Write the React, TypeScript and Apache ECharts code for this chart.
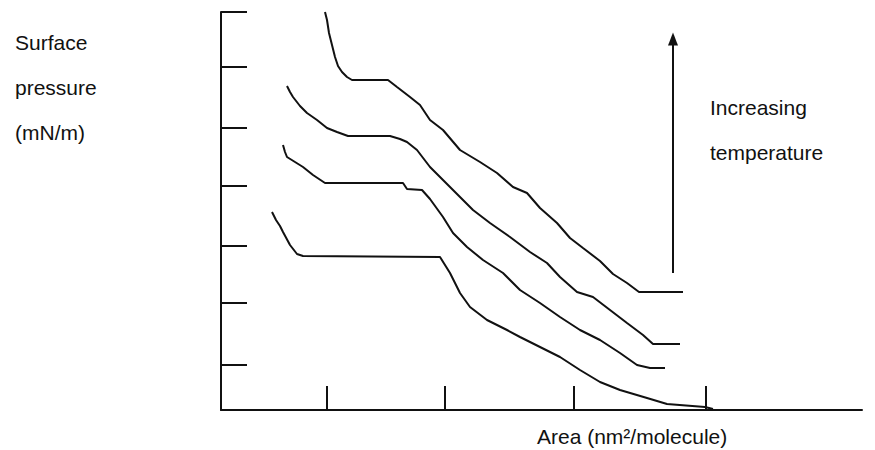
import React, { useEffect, useRef } from "react";
import * as echarts from "echarts";

// Data units: arbitrary area (x) and surface pressure (y) units
const curve1: [number, number][] = [
  [104, 398], [106, 390], [108, 377], [111, 365], [114, 353], [117, 344], [121, 338], [126, 333], [131, 330],
  [167, 330], [176, 323], [189, 313], [199, 305], [209, 290], [222, 280], [239, 260], [259, 248], [276, 237],
  [292, 223], [306, 217], [319, 202], [336, 187], [349, 172], [362, 162], [379, 149], [392, 136], [406, 127],
  [418, 118], [462, 118],
];
const curve2: [number, number][] = [
  [66, 324], [69, 318], [72, 313], [79, 304], [86, 297], [96, 290], [106, 282], [116, 278], [127, 274],
  [169, 274], [179, 271], [186, 268], [196, 260], [209, 243], [222, 230], [239, 213], [252, 200], [269, 187],
  [289, 173], [309, 158], [326, 147], [339, 133], [356, 118], [372, 113], [389, 100], [406, 87], [422, 75],
  [432, 66], [459, 66],
];
const curve3: [number, number][] = [
  [62, 265], [64, 258], [66, 253], [74, 248], [82, 243], [92, 235], [104, 227], [182, 227], [186, 221],
  [201, 220], [209, 211], [222, 193], [232, 177], [246, 163], [262, 150], [282, 137], [299, 120], [319, 107],
  [339, 93], [359, 80], [379, 70], [399, 57], [416, 45], [429, 42], [444, 42],
];
const curve4: [number, number][] = [
  [51, 198], [55, 190], [59, 184], [62, 178], [69, 165], [76, 156], [82, 154], [219, 153], [229, 137],
  [239, 117], [249, 103], [266, 90], [286, 80], [299, 73], [319, 63], [339, 53], [359, 40], [379, 28],
  [399, 20], [426, 12], [446, 6], [484, 3], [492, 1],
];
const xTickValues = [106, 224, 353, 485];
const yTickValues = [45, 107, 164, 224, 282, 343, 398];
const arrowX = 452;
const arrowFrom = 137;
const arrowTo = 371;

const X_MAX = 641;
const Y_MAX = 398;
const TICK_LEN = 26;

const INK = "#111111";
const FONT = "Liberation Sans, Arial, sans-serif";

export default function App() {
  const ref = useRef<HTMLDivElement>(null);
  useEffect(() => {
    if (!ref.current) return;
    const chart = echarts.init(ref.current, null, { renderer: "svg" });
    const lineStyle = { color: INK, width: 2 };
    const mkSeries = (name: string, data: [number, number][]) => ({
      name,
      type: "line",
      data,
      showSymbol: false,
      symbol: "none",
      lineStyle,
      silent: true,
      clip: false,
    });
    const tickLines = [
      ...yTickValues.map((y) => [
        { coord: [0, y] },
        { coord: [TICK_LEN, y] },
      ]),
      ...xTickValues.map((x) => [
        { coord: [x, 0] },
        { coord: [x, TICK_LEN - 2] },
      ]),
    ];
    chart.setOption({
      animation: false,
      backgroundColor: "#ffffff",
      grid: { left: 221, right: 13, top: 12, bottom: 40, containLabel: false },
      xAxis: {
        type: "value",
        min: 0,
        max: X_MAX,
        axisLine: { show: true, onZero: false, lineStyle: { color: INK, width: 2 } },
        axisTick: { show: false },
        axisLabel: { show: false },
        splitLine: { show: false },
      },
      yAxis: {
        type: "value",
        min: 0,
        max: Y_MAX,
        axisLine: { show: true, onZero: false, lineStyle: { color: INK, width: 2 } },
        axisTick: { show: false },
        axisLabel: { show: false },
        splitLine: { show: false },
      },
      series: [
        {
          ...mkSeries("T4", curve1),
          markLine: {
            silent: true,
            symbol: ["none", "none"],
            label: { show: false },
            lineStyle: { color: INK, width: 2, type: "solid" },
            data: tickLines,
          },
        },
        mkSeries("T3", curve2),
        mkSeries("T2", curve3),
        {
          ...mkSeries("T1", curve4),
          markLine: {
            silent: true,
            symbol: ["none", "triangle"],
            symbolSize: [10, 13],
            label: { show: false },
            lineStyle: { color: INK, width: 2, type: "solid" },
            itemStyle: { color: INK },
            data: [[{ coord: [arrowX, arrowFrom] }, { coord: [arrowX, arrowTo] }]],
          },
        },
      ],
      graphic: [
        {
          type: "text",
          left: 15,
          top: 20,
          style: {
            text: "Surface\npressure\n(mN/m)",
            font: `21px ${FONT}`,
            lineHeight: 45,
            fill: INK,
          },
        },
        {
          type: "text",
          left: 710,
          top: 85,
          style: {
            text: "Increasing\ntemperature",
            font: `21px ${FONT}`,
            lineHeight: 45,
            fill: INK,
          },
        },
        {
          type: "text",
          left: 537,
          top: 425,
          style: {
            text: "Area (nm²/molecule)",
            font: `21px ${FONT}`,
            lineHeight: 22,
            fill: INK,
          },
        },
      ],
    });
    return () => chart.dispose();
  }, []);
  return (
    <div
      ref={ref}
      style={{ position: "absolute", left: 0, top: 0, width: 875, height: 450 }}
    />
  );
}
